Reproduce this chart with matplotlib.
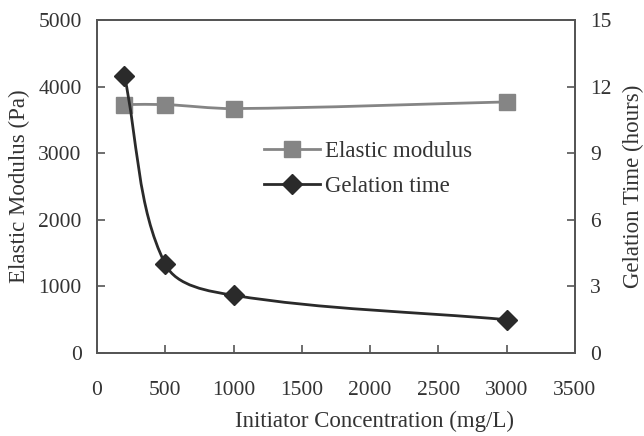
import numpy as np
import matplotlib
matplotlib.use("Agg")
import matplotlib.pyplot as plt
from matplotlib.path import Path
from matplotlib.patches import PathPatch
from matplotlib.lines import Line2D

plt.rcParams['font.family'] = ['Liberation Serif', 'DejaVu Serif']

# data
concentration = [200, 500, 1000, 3000]
elastic_modulus = [3730, 3730, 3670, 3770]
gelation_time = [12.5, 4.0, 2.6, 1.5]


def smooth_path(a, xs, ys):
    # smoothed line (cubic Bezier through each point), built in screen space
    trans = a.transData
    pts = trans.transform(np.column_stack([xs, ys]).astype(float))
    n = len(pts)
    verts = [pts[0]]
    codes = [Path.MOVETO]

    def tangent(i):
        prev = pts[i - 1] if i > 0 else pts[i]
        nxt = pts[i + 1] if i + 1 < n else pts[i]
        d = nxt - prev
        return d / np.hypot(*d)

    for i in range(n - 1):
        p1, p2 = pts[i], pts[i + 1]
        seg = np.hypot(*(p2 - p1)) / 3
        verts += [p1 + tangent(i) * seg, p2 - tangent(i + 1) * seg, p2]
        codes += [Path.CURVE4] * 3
    verts = trans.inverted().transform(np.array(verts))
    return Path(verts, codes)


fig = plt.figure(figsize=(6.44, 4.36), dpi=100)
ax = fig.add_axes([97 / 644, 1 - 353 / 436, 478 / 644, 333 / 436])
ax2 = ax.twinx()

ax.set_xlim(0, 3500)
ax.set_ylim(0, 5000)
ax2.set_ylim(0, 15)
ax.set_xticks(range(0, 3501, 500))
ax.set_yticks(range(0, 5001, 1000))
ax2.set_yticks(range(0, 16, 3))

gray = '#858585'
dark = '#2a2a2a'

ax.add_patch(PathPatch(smooth_path(ax, concentration, elastic_modulus),
                       facecolor='none', edgecolor=gray, lw=2))
ax.plot(concentration, elastic_modulus, ls='none', marker='s', ms=12,
        color=gray)

ax2.add_patch(PathPatch(smooth_path(ax2, concentration, gelation_time),
                        facecolor='none', edgecolor=dark, lw=2))
ax2.plot(concentration, gelation_time, ls='none', marker='D', ms=10,
         color=dark)

for a in (ax, ax2):
    a.tick_params(direction='in', labelsize=15.5, length=6, width=1.2,
                  color='#555555', labelcolor='#333333', pad=11)
    for s in a.spines.values():
        s.set_color('#555555')
        s.set_linewidth(1.3)
ax.tick_params(axis='x', pad=20)

ax.set_xlabel('Initiator Concentration (mg/L)', fontsize=16.5,
              color='#333333', labelpad=8)
ax.xaxis.label.set_x(0.58)
ax.set_ylabel('Elastic Modulus (Pa)', fontsize=16.5, color='#333333',
              labelpad=6)
ax2.set_ylabel('Gelation Time (hours)', fontsize=16.5, color='#333333',
               labelpad=8)

handles = [
    Line2D([], [], color=gray, lw=2, marker='s', ms=12),
    Line2D([], [], color=dark, lw=2, marker='D', ms=10),
]
ax.legend(handles, ['Elastic modulus', 'Gelation time'], frameon=False,
          fontsize=16.5, loc='upper left', bbox_to_anchor=(0.34, 0.65),
          handlelength=2.45, labelspacing=0.6, handletextpad=0.2,
          borderaxespad=0, borderpad=0.2, labelcolor='#333333')

fig.savefig('out.png', dpi=100)
